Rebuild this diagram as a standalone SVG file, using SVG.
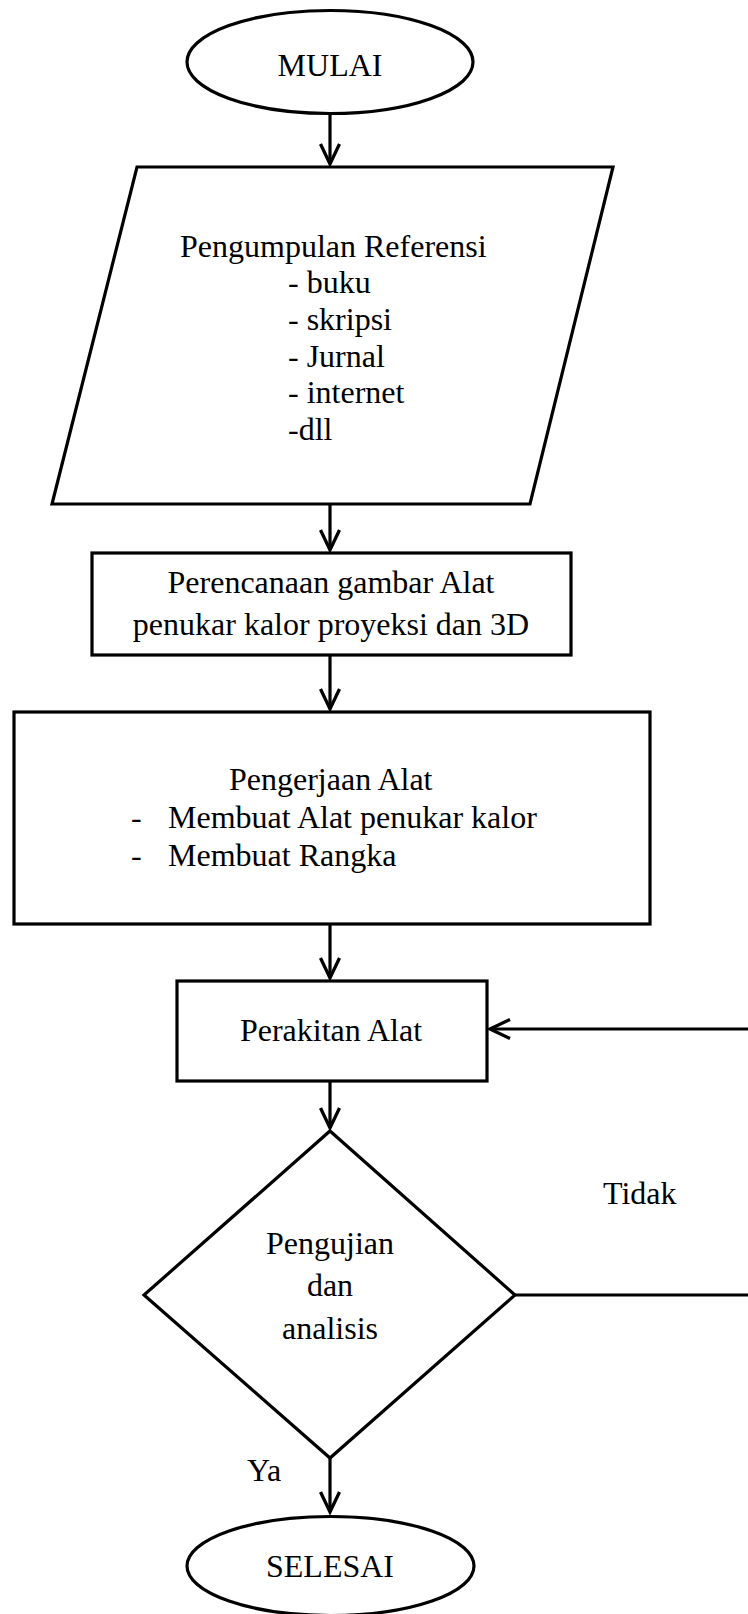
<svg xmlns="http://www.w3.org/2000/svg" width="748" height="1614" viewBox="0 0 748 1614">
<style>
  .shape { fill: #ffffff; stroke: #000000; stroke-width: 3.2; }
  .conn { fill: none; stroke: #000000; stroke-width: 3.2; }
  text { font-family: "Liberation Serif", "Times New Roman", serif; font-size: 32px; fill: #000000; }
  .c { text-anchor: middle; }
</style>
<defs>
  <marker id="arrow" viewBox="-24 -13 28 26" refX="0" refY="0" markerWidth="28" markerHeight="26" markerUnits="userSpaceOnUse" orient="auto">
    <path d="M-20,-9.5 L0,0 L-20,9.5" fill="none" stroke="#000000" stroke-width="3.3" stroke-linejoin="miter"/>
  </marker>
</defs>
<rect x="0" y="0" width="748" height="1614" fill="#ffffff"/>

<g id="connectors">
  <line class="conn" x1="330" y1="114" x2="330" y2="164" marker-end="url(#arrow)"/>
  <line class="conn" x1="330" y1="504" x2="330" y2="550" marker-end="url(#arrow)"/>
  <line class="conn" x1="330" y1="655" x2="330" y2="709" marker-end="url(#arrow)"/>
  <line class="conn" x1="330" y1="924" x2="330" y2="978" marker-end="url(#arrow)"/>
  <line class="conn" x1="330" y1="1081" x2="330" y2="1128" marker-end="url(#arrow)"/>
  <line class="conn" x1="330" y1="1458" x2="330" y2="1512" marker-end="url(#arrow)"/>
  <path class="conn" d="M515,1295 H770 V1029 H490" marker-end="url(#arrow)"/>
</g>

<g id="node-mulai">
  <ellipse class="shape" cx="330" cy="62" rx="143" ry="51.5"/>
  <text class="c" x="330" y="76">MULAI</text>
</g>

<g id="node-referensi">
  <polygon class="shape" points="137,167 613,167 530,504 52,504"/>
  <text x="180" y="257">Pengumpulan Referensi</text>
  <text x="288" y="293">- buku</text>
  <text x="288" y="330">- skripsi</text>
  <text x="288" y="367">- Jurnal</text>
  <text x="288" y="403">- internet</text>
  <text x="288" y="440">-dll</text>
</g>

<g id="node-perencanaan">
  <rect class="shape" x="92" y="553" width="479" height="102"/>
  <text class="c" x="331" y="593">Perencanaan gambar Alat</text>
  <text class="c" x="331" y="635">penukar kalor proyeksi dan 3D</text>
</g>

<g id="node-pengerjaan">
  <rect class="shape" x="14" y="712" width="636" height="212"/>
  <text x="229" y="790">Pengerjaan Alat</text>
  <text x="131" y="828">-</text>
  <text x="168" y="828">Membuat Alat penukar kalor</text>
  <text x="131" y="866">-</text>
  <text x="168" y="866">Membuat Rangka</text>
</g>

<g id="node-perakitan">
  <rect class="shape" x="177" y="981" width="310" height="100"/>
  <text class="c" x="331" y="1041">Perakitan Alat</text>
</g>

<g id="node-pengujian">
  <polygon class="shape" points="330,1131 515,1295 330,1458 144,1295"/>
  <text class="c" x="330" y="1254">Pengujian</text>
  <text class="c" x="330" y="1296">dan</text>
  <text class="c" x="330" y="1339">analisis</text>
</g>

<g id="labels">
  <text x="603" y="1204">Tidak</text>
  <text x="247" y="1481">Ya</text>
</g>

<g id="node-selesai">
  <ellipse class="shape" cx="330.5" cy="1566" rx="143.5" ry="49.5"/>
  <text class="c" x="330" y="1577">SELESAI</text>
</g>
</svg>
